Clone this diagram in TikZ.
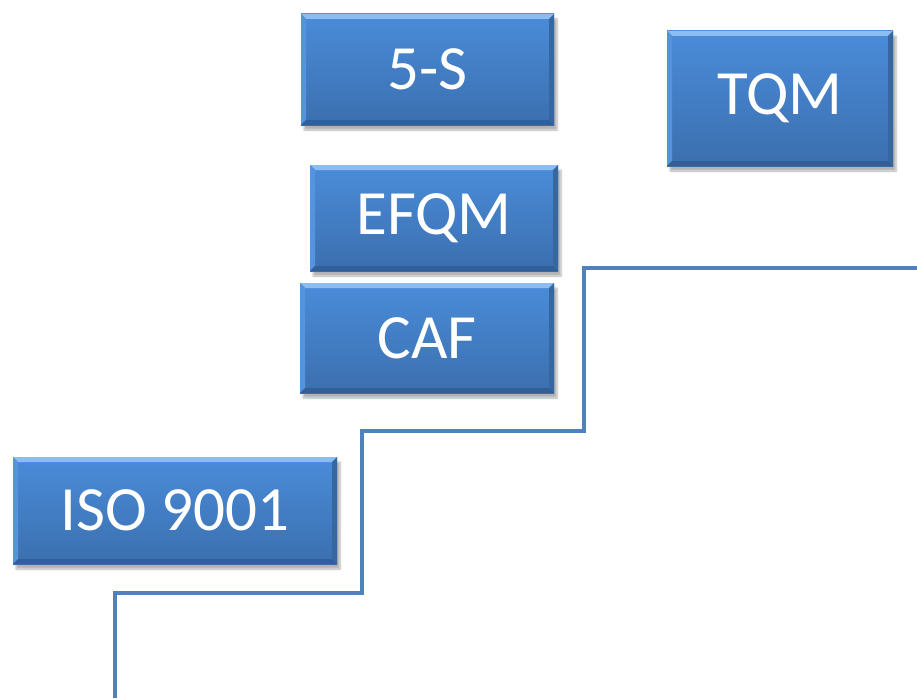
\documentclass[tikz,border=0pt]{standalone}
\usepackage{fontspec}
\setmainfont{Carlito}
\usetikzlibrary{shadows.blur}

\definecolor{boxtop}{HTML}{4A8CDA}
\definecolor{boxbot}{HTML}{3B6FAE}
\definecolor{bevlight}{HTML}{8DBDF0}
\definecolor{bevleft}{HTML}{5594DC}
\definecolor{bevright}{HTML}{36679F}
\definecolor{bevbot}{HTML}{335E96}
\definecolor{stairblue}{HTML}{4F81BD}

\tikzset{
  qbox/.style={
    rectangle, inner sep=0pt, text=white,
    font=\fontsize{63}{65}\selectfont,
    top color=boxtop, bottom color=boxbot,
    blur shadow={shadow xshift=3pt, shadow yshift=-5pt, shadow opacity=30, shadow blur steps=6},
    path picture={
      \coordinate (nw) at (path picture bounding box.north west);
      \coordinate (se) at (path picture bounding box.south east);
      \def\bv{5pt}
      % top bevel
      \fill[bevlight] (nw) -- (nw -| se) -- ([shift={(-\bv,-\bv)}]nw -| se) -- ([shift={(\bv,-\bv)}]nw) -- cycle;
      % left bevel
      \fill[bevleft] (nw) -- ([shift={(\bv,-\bv)}]nw) -- ([shift={(\bv,\bv)}]se -| nw) -- (se -| nw) -- cycle;
      % right bevel
      \fill[bevright] (nw -| se) -- (se) -- ([shift={(-\bv,\bv)}]se) -- ([shift={(-\bv,-\bv)}]nw -| se) -- cycle;
      % bottom bevel
      \fill[bevbot] (se -| nw) -- (se) -- ([shift={(-\bv,\bv)}]se) -- ([shift={(\bv,\bv)}]se -| nw) -- cycle;
    }
  },
  stair/.style={draw=stairblue, line width=4pt}
}

\newcommand{\qnode}[6]{%
  \node[qbox, minimum width={(#4-#2)*1pt}, minimum height={(#5-#3)*1pt}]
    (#1) at ({(#2+#4)/2}, {(#3+#5)/2}) {#6};}

\begin{document}
\begin{tikzpicture}[x=1pt, y=-1pt]
  \useasboundingbox (0,0) rectangle (917,698);

  \qnode{fives}{301}{14}{554}{125}{5-S}
  \qnode{tqm}{667}{31}{893}{166}{TQM}
  \qnode{efqm}{310}{165}{558}{271}{EFQM}
  \qnode{caf}{300}{283}{554}{393}{CAF}
  \qnode{iso}{13}{457}{337}{564}{ISO 9001}

  % staircase
  \draw[stair] (115,698) -- (115,593) -- (362,593) -- (362,431)
               -- (584,431) -- (584,268) -- (917,268);
\end{tikzpicture}
\end{document}
